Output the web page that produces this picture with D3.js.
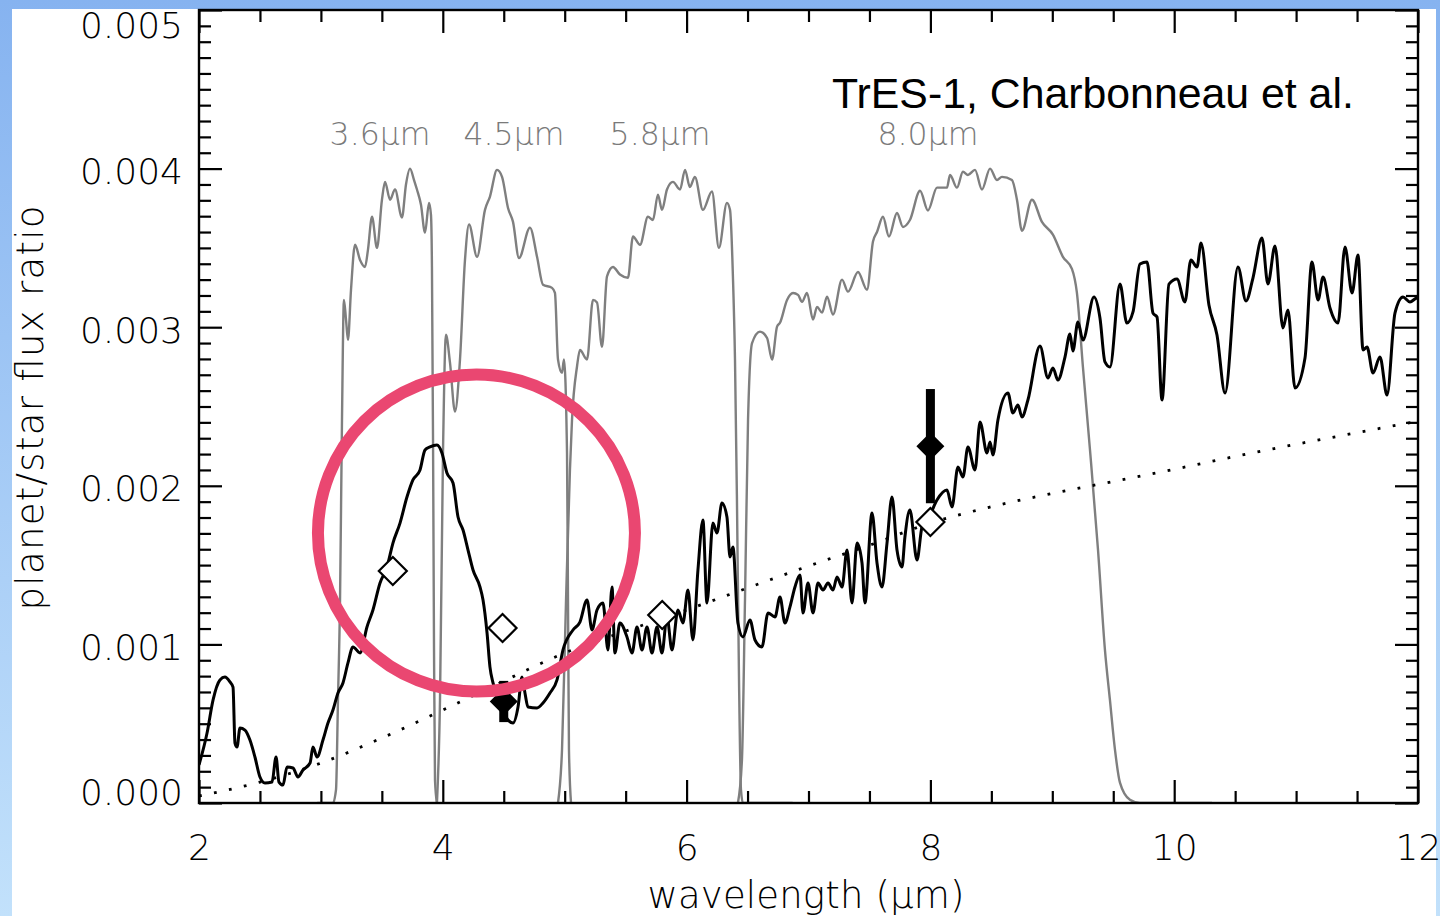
<!DOCTYPE html>
<html>
<head>
<meta charset="utf-8">
<script src="https://cdn.jsdelivr.net/npm/d3@7"></script>
<style>
  html, body { margin: 0; padding: 0; }
  body { width: 1440px; height: 916px; overflow: hidden; background: linear-gradient(#86b3f0, #c2e1fb); }
  svg { position: absolute; left: 0; top: 0; }
</style>
</head>
<body>
<svg id="chart" width="1440" height="916"></svg>
<script>
// Model planet/star flux ratio: [wavelength (µm), ratio x 1e-3]
const modelSpectrum = [
  [2.000,0.240],[2.066,0.441],[2.115,0.649],[2.172,0.776],[2.213,0.794],[2.254,0.763],[2.279,0.731],[2.295,0.378],
  [2.312,0.353],[2.336,0.473],[2.377,0.460],[2.418,0.397],[2.459,0.290],[2.500,0.164],[2.541,0.126],[2.599,0.132],
  [2.632,0.290],[2.656,0.132],[2.689,0.113],[2.722,0.227],[2.771,0.221],[2.812,0.164],[2.853,0.208],[2.911,0.252],
  [2.935,0.353],[2.968,0.290],[3.017,0.397],[3.058,0.504],[3.099,0.586],[3.140,0.694],[3.181,0.757],[3.222,0.883],
  [3.263,0.984],[3.321,0.946],[3.378,1.110],[3.427,1.217],[3.485,1.387],[3.542,1.488],[3.591,1.639],[3.649,1.765],
  [3.706,1.929],[3.755,2.037],[3.813,2.100],[3.854,2.226],[3.895,2.245],[3.952,2.257],[3.993,2.207],[4.034,2.081],
  [4.084,2.018],[4.125,1.803],[4.166,1.721],[4.207,1.595],[4.248,1.469],[4.305,1.362],[4.330,1.280],[4.363,1.072],
  [4.387,0.857],[4.412,0.757],[4.469,0.631],[4.535,0.523],[4.576,0.504],[4.617,0.605],[4.650,0.794],[4.674,0.694],
  [4.699,0.605],[4.773,0.599],[4.822,0.631],[4.879,0.694],[4.937,0.776],[4.986,0.965],[5.068,1.091],[5.125,1.141],
  [5.183,1.280],[5.224,1.091],[5.265,1.217],[5.314,1.261],[5.355,0.965],[5.388,1.362],[5.412,0.946],[5.453,1.135],
  [5.511,1.047],[5.552,0.946],[5.593,1.110],[5.634,0.965],[5.675,1.110],[5.716,0.946],[5.757,1.110],[5.798,0.946],
  [5.839,1.173],[5.880,0.965],[5.929,1.217],[5.970,1.135],[6.011,1.343],[6.052,1.028],[6.093,1.469],[6.134,1.784],
  [6.167,1.261],[6.216,1.765],[6.249,1.702],[6.290,1.892],[6.331,1.803],[6.356,1.551],[6.380,1.614],[6.421,1.135],
  [6.462,1.047],[6.520,1.154],[6.561,1.028],[6.618,0.984],[6.668,1.198],[6.725,1.173],[6.766,1.299],[6.807,1.135],
  [6.848,1.236],[6.889,1.362],[6.930,1.438],[6.955,1.198],[6.996,1.387],[7.037,1.198],[7.078,1.387],[7.119,1.343],
  [7.160,1.387],[7.201,1.343],[7.234,1.425],[7.275,1.362],[7.316,1.595],[7.357,1.261],[7.398,1.639],[7.439,1.513],
  [7.463,1.261],[7.521,1.828],[7.562,1.513],[7.603,1.362],[7.644,1.639],[7.685,1.929],[7.726,1.595],[7.767,1.488],
  [7.791,1.677],[7.832,1.847],[7.890,1.532],[7.931,1.740],[7.996,1.816],[8.054,1.910],[8.136,1.973],[8.177,1.866],
  [8.226,2.118],[8.267,2.055],[8.308,2.245],[8.366,2.100],[8.407,2.402],[8.464,2.207],[8.489,2.276],[8.513,2.194],
  [8.554,2.415],[8.636,2.585],[8.677,2.459],[8.718,2.509],[8.751,2.434],[8.800,2.541],[8.899,2.881],[8.964,2.680],
  [9.005,2.743],[9.046,2.667],[9.104,2.812],[9.145,2.957],[9.169,2.850],[9.210,3.033],[9.251,2.919],[9.342,3.190],
  [9.391,3.058],[9.432,2.781],[9.473,2.749],[9.555,3.272],[9.612,3.026],[9.662,3.096],[9.719,3.398],[9.777,3.411],
  [9.826,3.089],[9.859,3.064],[9.900,2.541],[9.957,3.272],[10.023,3.304],[10.088,3.159],[10.137,3.424],[10.187,3.379],
  [10.220,3.531],[10.285,3.140],[10.351,2.951],[10.417,2.585],[10.523,3.379],[10.589,3.165],[10.646,3.310],[10.720,3.562],
  [10.769,3.272],[10.827,3.512],[10.892,2.995],[10.933,3.108],[10.991,2.617],[11.073,2.806],[11.130,3.411],[11.180,3.171],
  [11.221,3.316],[11.278,3.121],[11.344,3.026],[11.401,3.506],[11.459,3.216],[11.508,3.455],[11.549,2.856],[11.582,2.875],
  [11.631,2.711],[11.688,2.812],[11.746,2.572],[11.811,3.089],[11.877,3.190],[11.934,3.159],[11.992,3.184],[12.000,3.180]
];

// Blackbody ratio (dotted): [wavelength, ratio x 1e-3]
const blackbody = [
  [2.0,0.044],[2.5,0.132],[3.0,0.252],[3.5,0.410],[4.0,0.586],[4.5,0.769],[5.0,0.946],[5.5,1.084],[6.0,1.217],
  [6.5,1.356],[7.0,1.494],[7.5,1.625],[8.0,1.765],[8.5,1.868],[9.0,1.952],[9.5,2.027],[10.0,2.104],[10.5,2.185],
  [11.0,2.262],[11.5,2.335],[12.0,2.408]
];

// IRAC band responses, normalised to peak = 1
const irac36 = [
  [2.970,0],[3.099,0],[3.124,0.021],[3.140,0.162],[3.157,0.320],[3.173,0.604],[3.189,0.793],[3.206,0.762],[3.222,0.730],
  [3.247,0.809],[3.280,0.880],[3.321,0.856],[3.362,0.845],[3.386,0.872],[3.419,0.924],[3.460,0.875],[3.501,0.951],
  [3.526,0.979],[3.567,0.951],[3.608,0.967],[3.665,0.923],[3.698,0.975],[3.731,1.000],[3.764,0.982],[3.788,0.967],
  [3.821,0.943],[3.854,0.899],[3.887,0.946],[3.903,0.927],[3.911,0.845],[3.920,0.568],[3.928,0.241],[3.936,0.036],[3.952,0]
];
const irac45 = [
  [3.952,0],[3.977,0.162],[4.002,0.557],[4.026,0.738],[4.059,0.694],[4.100,0.617],[4.141,0.699],[4.182,0.856],
  [4.215,0.912],[4.281,0.861],[4.346,0.935],[4.387,0.956],[4.445,0.998],[4.486,0.987],[4.535,0.938],[4.576,0.916],
  [4.625,0.859],[4.715,0.907],[4.773,0.861],[4.822,0.817],[4.896,0.812],[4.920,0.804],[4.945,0.699],[4.978,0.678],
  [4.994,0.699],[5.019,0.552],[5.027,0.320],[5.035,0.084],[5.052,0]
];
const irac58 = [
  [4.945,0],[4.978,0.084],[5.011,0.320],[5.043,0.525],[5.060,0.604],[5.101,0.688],[5.125,0.714],[5.183,0.699],
  [5.232,0.793],[5.265,0.789],[5.306,0.719],[5.347,0.830],[5.396,0.845],[5.453,0.833],[5.519,0.828],[5.560,0.893],
  [5.618,0.880],[5.683,0.924],[5.724,0.919],[5.765,0.959],[5.798,0.935],[5.839,0.967],[5.888,0.979],[5.946,0.967],
  [5.987,0.998],[6.027,0.971],[6.068,0.987],[6.134,0.935],[6.208,0.964],[6.265,0.875],[6.331,0.946],[6.356,0.935],
  [6.380,0.830],[6.397,0.699],[6.413,0.478],[6.430,0.194],[6.446,0.021],[6.462,0],[6.870,0]
];
const irac80 = [
  [6.421,0],[6.454,0.068],[6.479,0.320],[6.504,0.604],[6.537,0.725],[6.602,0.743],[6.660,0.733],[6.701,0.699],
  [6.742,0.751],[6.766,0.757],[6.824,0.793],[6.873,0.804],[6.914,0.801],[6.947,0.790],[6.988,0.804],[7.037,0.762],
  [7.070,0.782],[7.111,0.773],[7.152,0.798],[7.201,0.770],[7.275,0.825],[7.324,0.806],[7.406,0.837],[7.480,0.809],
  [7.529,0.885],[7.562,0.900],[7.611,0.924],[7.660,0.893],[7.726,0.930],[7.775,0.908],[7.832,0.919],[7.915,0.965],
  [7.980,0.934],[8.054,0.970],[8.136,0.970],[8.161,0.990],[8.218,0.970],[8.267,0.995],[8.308,0.990],[8.366,0.998],
  [8.423,0.967],[8.489,1.000],[8.546,0.982],[8.587,0.987],[8.669,0.982],[8.710,0.951],[8.751,0.902],[8.833,0.951],
  [8.915,0.916],[9.005,0.896],[9.087,0.861],[9.161,0.842],[9.202,0.804],[9.251,0.688],[9.309,0.557],[9.375,0.399],
  [9.432,0.241],[9.473,0.162],[9.514,0.084],[9.555,0.032],[9.637,0.005],[9.719,0],[10.310,0]
];
const bands = [irac36, irac45, irac58, irac80];
const bandLabels = ["3.6µm", "4.5µm", "5.8µm", "8.0µm"];
const bandLabelAt = [3.485, 4.584, 5.782, 7.98];

// band-integrated model (open) and measured (filled) points, ratio x 1e-3
const bandModel = [[3.59, 1.463], [4.49, 1.103], [5.80, 1.185], [8.00, 1.772]];
const measured = [[4.5, 0.64, 0.13], [8.0, 2.25, 0.36]]; // [wl, ratio, error]

const xTicks = [2, 4, 6, 8, 10, 12];
const yTicks = [0, 0.001, 0.002, 0.003, 0.004, 0.005];
const yTickLabels = ["0.000", "0.001", "0.002", "0.003", "0.004", "0.005"];

const title = "TrES-1, Charbonneau et al.";
const circleNote = { wl: 4.276, ratio: 1.702 }; // highlight ring centre

// ---------------------------------------------------------------
const svg = d3.select("#chart");
const pLeft = 199, pRight = 1418, pTop = 10, pBottom = 803;
const milli = (v) => v * 1e-3;

const x = d3.scaleLinear().domain([2, 12]).range([pLeft, pRight]);
const y = d3.scaleLinear().domain([0, 0.005]).range([pBottom, pTop]);
const yBand = d3.scaleLinear().domain([0, 1]).range([y(0), y(0.004)]);

const idlFont = "'DejaVu Sans', sans-serif";

// white slide area
svg.append("rect").attr("x", 12).attr("y", 9).attr("width", 1424).attr("height", 907).attr("fill", "#ffffff");

svg.append("clipPath").attr("id", "plot").append("rect")
  .attr("x", pLeft).attr("y", pTop).attr("width", pRight - pLeft).attr("height", pBottom - pTop);
const plot = svg.append("g").attr("clip-path", "url(#plot)");

// filter curves
const bandLine = d3.line().x((d) => x(d[0])).y((d) => yBand(d[1])).curve(d3.curveMonotoneX);
plot.selectAll("path.band").data(bands).join("path")
  .attr("class", "band")
  .attr("d", bandLine)
  .attr("fill", "none")
  .attr("stroke", "#7f7f7f")
  .attr("stroke-width", 2.4);

// dotted blackbody
const ratioLine = d3.line().x((d) => x(d[0])).y((d) => y(milli(d[1])));
plot.append("path")
  .attr("d", ratioLine.curve(d3.curveMonotoneX)(blackbody))
  .attr("fill", "none")
  .attr("stroke", "#000")
  .attr("stroke-width", 2.8)
  .attr("stroke-dasharray", "2.8 12.5");

// model spectrum
plot.append("path")
  .attr("d", ratioLine.curve(d3.curveMonotoneX)(modelSpectrum))
  .attr("fill", "none")
  .attr("stroke", "#000")
  .attr("stroke-width", 3)
  .attr("stroke-linejoin", "round");

// diamonds
const diamond = (h) => `M0,${-h}L${h},0L0,${h}L${-h},0Z`;

svg.selectAll("rect.err").data(measured).join("rect")
  .attr("class", "err")
  .attr("x", (d) => x(d[0]) - 4.5)
  .attr("width", 9)
  .attr("y", (d) => y(milli(d[1] + d[2])))
  .attr("height", (d) => y(milli(d[1] - d[2])) - y(milli(d[1] + d[2])))
  .attr("fill", "#000");

svg.selectAll("path.meas").data(measured).join("path")
  .attr("class", "meas")
  .attr("transform", (d) => `translate(${x(d[0])},${y(milli(d[1]))})`)
  .attr("d", diamond(14))
  .attr("fill", "#000");

svg.selectAll("path.bandpt").data(bandModel).join("path")
  .attr("class", "bandpt")
  .attr("transform", (d) => `translate(${x(d[0])},${y(milli(d[1]))})`)
  .attr("d", diamond(14))
  .attr("fill", "#fff")
  .attr("stroke", "#000")
  .attr("stroke-width", 2.2);

// axes: ticks point inward on all four sides
const majorX = xTicks;
const minorX = d3.range(2.5, 12, 0.5).filter((v) => v % 2 !== 0);
const majorY = yTicks;
const minorY = d3.range(1, 50).filter((v) => v % 10 !== 0).map((v) => v * 1e-4);

function styleAxis(g) {
  g.select(".domain").remove();
  g.selectAll(".tick line").attr("stroke", "#000").attr("stroke-width", 2.2);
}

svg.append("g").attr("transform", `translate(0,${pBottom})`)
  .call(d3.axisBottom(x).tickValues(majorX).tickSize(-23).tickPadding(31).tickFormat(d3.format("d")))
  .call(styleAxis)
  .call((g) => g.selectAll("text").attr("font-family", idlFont).attr("font-size", 36).attr("font-weight", 200).attr("fill", "#000"));
svg.append("g").attr("transform", `translate(0,${pBottom})`)
  .call(d3.axisBottom(x).tickValues(minorX).tickSize(-12).tickFormat(""))
  .call(styleAxis);
svg.append("g").attr("transform", `translate(0,${pTop})`)
  .call(d3.axisTop(x).tickValues(majorX).tickSize(-23).tickFormat(""))
  .call(styleAxis);
svg.append("g").attr("transform", `translate(0,${pTop})`)
  .call(d3.axisTop(x).tickValues(minorX).tickSize(-12).tickFormat(""))
  .call(styleAxis);

svg.append("g").attr("transform", `translate(${pLeft},0)`)
  .call(d3.axisLeft(y).tickValues(majorY).tickSize(-23).tickFormat(""))
  .call(styleAxis);
svg.append("g").attr("transform", `translate(${pLeft},0)`)
  .call(d3.axisLeft(y).tickValues(minorY).tickSize(-12).tickFormat(""))
  .call(styleAxis);
svg.append("g").attr("transform", `translate(${pRight},0)`)
  .call(d3.axisRight(y).tickValues(majorY).tickSize(-23).tickFormat(""))
  .call(styleAxis);
svg.append("g").attr("transform", `translate(${pRight},0)`)
  .call(d3.axisRight(y).tickValues(minorY).tickSize(-12).tickFormat(""))
  .call(styleAxis);

// frame
svg.append("rect")
  .attr("x", pLeft).attr("y", pTop).attr("width", pRight - pLeft).attr("height", pBottom - pTop)
  .attr("fill", "none").attr("stroke", "#000").attr("stroke-width", 2.4);

// y tick labels (end labels kept inside the frame)
svg.selectAll("text.ylab").data(yTicks).join("text")
  .attr("class", "ylab")
  .attr("x", 183)
  .attr("y", (d, i) => y(d) + (i === 0 ? -11 : i === yTicks.length - 1 ? 15 : 3))
  .attr("dominant-baseline", "central")
  .attr("text-anchor", "end")
  .attr("font-family", idlFont).attr("font-size", 36).attr("font-weight", 200)
  .text((d, i) => yTickLabels[i]);

// axis titles
svg.append("text")
  .attr("x", 806).attr("y", 908)
  .attr("text-anchor", "middle")
  .attr("font-family", idlFont).attr("font-size", 37).attr("font-weight", 200)
  .attr("textLength", 317).attr("lengthAdjust", "spacing")
  .text("wavelength (µm)");

svg.append("text")
  .attr("transform", "translate(43,408) rotate(-90)")
  .attr("text-anchor", "middle")
  .attr("font-family", idlFont).attr("font-size", 37).attr("font-weight", 200)
  .attr("textLength", 405).attr("lengthAdjust", "spacing")
  .text("planet/star flux ratio");

// band labels
svg.selectAll("text.blab").data(bandLabels).join("text")
  .attr("class", "blab")
  .attr("x", (d, i) => x(bandLabelAt[i]))
  .attr("y", 145)
  .attr("text-anchor", "middle")
  .attr("font-family", idlFont).attr("font-size", 31.5).attr("font-weight", 200)
  .attr("fill", "#7a7a7a")
  .text((d) => d);

// title
svg.append("text")
  .attr("x", 832).attr("y", 108)
  .attr("font-family", "'Liberation Sans', Arial, sans-serif")
  .attr("font-size", 42.8)
  .attr("fill", "#000")
  .text(title);

// highlight ring
svg.append("circle")
  .attr("cx", x(circleNote.wl))
  .attr("cy", y(milli(circleNote.ratio)))
  .attr("r", 158.5)
  .attr("fill", "none")
  .attr("stroke", "#ea4771")
  .attr("stroke-width", 12);
</script>
</body>
</html>
